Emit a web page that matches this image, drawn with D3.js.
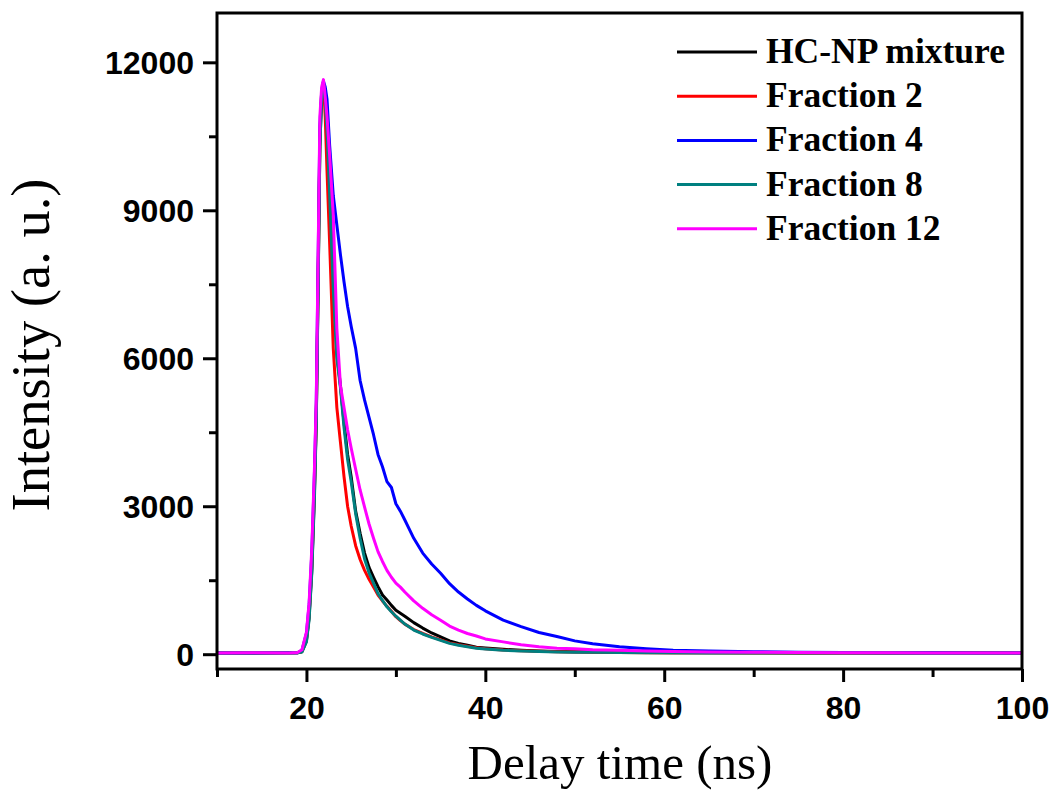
<!DOCTYPE html>
<html><head><meta charset="utf-8">
<script src="https://cdn.jsdelivr.net/npm/d3@7"></script>
<style>body{margin:0;background:#fff}</style>
</head><body>
<svg id="c" width="1054" height="798"></svg>
<script>
const delayTime = [10,14,18,19,19.5,20,20.3,20.6,20.9,21.1,21.3,21.5,21.7,21.9,22.1,22.3,22.6,23,23.4,23.8,24.2,24.6,25,25.5,26,26.5,27,27.5,28,28.5,29,29.5,30,30.5,31,32,33,34,35,36,37,38,39,40,42,44,46,48,50,52,55,58,61,65,70,75,80,85,90,95,100];
const hcNpMixture = [25,24,27,28,50,270,750,1700,3300,4750,7400,10300,11300,11550,11200,10600,9300,7500,6100,5450,4700,4050,3600,2900,2450,2050,1760,1560,1370,1200,1100,990,890,830,770,640,530,430,350,270,220,180,140,125,100,80,65,55,50,45,40,35,32,30,28,26,25,24,23,22,22];
const fraction2 = [25,22,26,28,55,300,800,1800,3400,4800,7500,10500,11400,11600,10900,9800,8300,6200,5000,4300,3600,3000,2600,2200,1920,1700,1520,1360,1200,1080,970,870,760,680,610,500,420,350,290,230,190,160,130,110,85,70,60,50,45,40,35,32,30,28,26,25,24,23,22,22,21];
const fraction4 = [22,25,28,30,80,420,1000,2050,3700,5100,7900,10700,11400,11620,11500,11250,10300,9300,8700,8100,7550,7050,6650,6200,5550,5150,4800,4450,4050,3800,3500,3380,3050,2900,2720,2350,2050,1830,1640,1430,1260,1120,990,880,690,560,440,360,270,210,150,110,80,65,50,40,35,30,28,25,22];
const fraction8 = [25,24,25,27,45,250,700,1650,3200,4700,7300,10300,11300,11600,11200,10600,9300,7400,6000,5400,4600,3950,3500,2850,2350,1930,1650,1440,1230,1090,960,860,770,690,610,490,410,340,280,220,180,150,120,105,80,65,55,45,40,38,32,30,28,26,25,24,22,22,21,20,20];
const fraction12 = [25,28,24,35,90,450,1050,2150,3800,5200,8000,10900,11500,11650,11300,10900,10100,8900,6600,5450,5000,4550,4180,3750,3330,2980,2640,2350,2080,1880,1700,1560,1440,1360,1260,1080,930,800,690,570,490,420,370,310,250,190,150,120,110,90,80,65,55,45,40,35,30,28,25,24,22];

const seriesNames = ["HC-NP mixture","Fraction 2","Fraction 4","Fraction 8","Fraction 12"];
const seriesValues = [hcNpMixture, fraction2, fraction4, fraction8, fraction12];
const seriesColors = ["#000000","#ff0000","#0000ff","#008080","#ff00ff"];
const xMajorTicks = [20,40,60,80,100];
const xMinorTicks = [10,30,50,70,90];
const yMajorTicks = [0,3000,6000,9000,12000];
const yMinorTicks = [1500,4500,7500,10500];

const svg = d3.select("#c");
const L = 217, R = 1022, T = 13, B = 669;
const x = d3.scaleLinear().domain([10,100]).range([L,R]);
const y = d3.scaleLinear().domain([-300,13000]).range([B,T]);

const plot = svg.append("g");
plot.append("defs").append("clipPath").attr("id","clip")
  .append("rect").attr("x",L).attr("y",T).attr("width",R-L).attr("height",B-T);

const line = d3.line().x((d,i)=>x(delayTime[i])).y(d=>y(d));
seriesValues.forEach((vals,k)=>{
  plot.append("path").datum(vals)
    .attr("clip-path","url(#clip)")
    .attr("fill","none").attr("stroke",seriesColors[k]).attr("stroke-width",3)
    .attr("stroke-linejoin","round")
    .attr("d",line);
});

// axes
const fontTick = "'Liberation Sans', Arial, sans-serif";
const xAxis = svg.append("g").attr("transform",`translate(0,${B})`)
  .call(d3.axisBottom(x).tickValues(xMajorTicks).tickSize(13).tickPadding(14).tickFormat(d3.format("d")));
const xMinor = svg.append("g").attr("transform",`translate(0,${B})`)
  .call(d3.axisBottom(x).tickValues(xMinorTicks).tickSize(8).tickFormat(""));
const yAxis = svg.append("g").attr("transform",`translate(${L},0)`)
  .call(d3.axisLeft(y).tickValues(yMajorTicks).tickSize(14).tickPadding(9).tickFormat(d3.format("d")));
const yMinor = svg.append("g").attr("transform",`translate(${L},0)`)
  .call(d3.axisLeft(y).tickValues(yMinorTicks).tickSize(8).tickFormat(""));
[xAxis,xMinor,yAxis,yMinor].forEach(g=>{
  g.select(".domain").remove();
  g.selectAll("line").attr("stroke","#000").attr("stroke-width",3);
  g.selectAll("text").attr("fill","#000").style("font-family",fontTick)
    .style("font-weight","bold").style("font-size","32px");
});
yAxis.selectAll("text").attr("dy","0.36em");

// frame
svg.append("rect").attr("x",L).attr("y",T).attr("width",R-L).attr("height",B-T)
  .attr("fill","none").attr("stroke","#000").attr("stroke-width",3);

// axis titles
const serif = "'Liberation Serif', 'Times New Roman', serif";
svg.append("text").attr("x",620).attr("y",779).attr("text-anchor","middle")
  .style("font-family",serif).style("font-size","49px").text("Delay time (ns)");
svg.append("text").attr("transform","translate(49,345) rotate(-90)").attr("text-anchor","middle")
  .style("font-family",serif).style("font-size","54.5px").text("Intensity (a. u.)");

// legend
const leg = svg.append("g");
seriesNames.forEach((n,k)=>{
  const yy = 52 + k*44.2;
  leg.append("line").attr("x1",677).attr("x2",757).attr("y1",yy).attr("y2",yy)
    .attr("stroke",seriesColors[k]).attr("stroke-width",3);
  leg.append("text").attr("x",766).attr("y",yy+11)
    .style("font-family",serif).style("font-weight","bold").style("font-size","35.5px").text(n);
});
</script>
</body></html>
